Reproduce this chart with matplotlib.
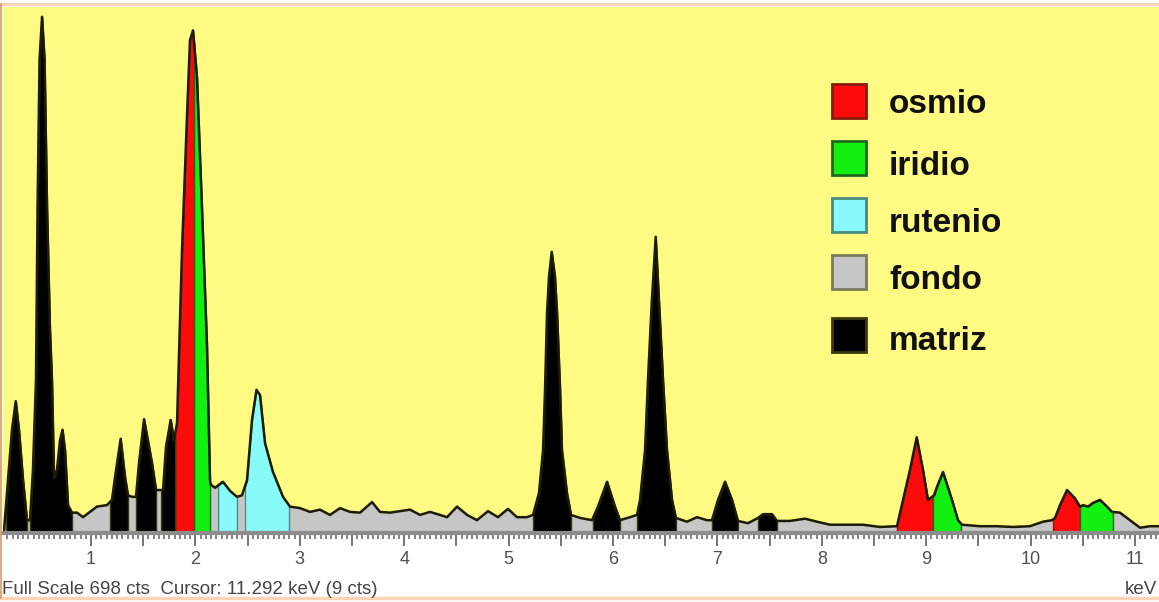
import numpy as np
import matplotlib.pyplot as plt
from matplotlib.patches import Rectangle
from matplotlib.lines import Line2D

plt.rcParams['font.family'] = ['Liberation Sans', 'DejaVu Sans']

# ---------------- espectro EDS (keV, cuentas) ----------------
energy = [0.167, 0.205, 0.243, 0.279, 0.310, 0.349, 0.387, 0.416, 0.444, 0.473,
          0.488, 0.507, 0.531, 0.555, 0.579, 0.607, 0.626, 0.646, 0.674, 0.703,
          0.727, 0.751, 0.780, 0.818, 0.866, 0.923, 0.990, 1.057, 1.153, 1.201,
          1.230, 1.284, 1.326, 1.354, 1.393, 1.431, 1.460, 1.508, 1.584, 1.623,
          1.661, 1.690, 1.718, 1.763, 1.795, 1.824, 1.872, 1.920, 1.948, 1.977,
          2.015, 2.063, 2.111, 2.140, 2.149, 2.188, 2.264, 2.331, 2.398, 2.446,
          2.494, 2.542, 2.585, 2.619, 2.667, 2.743, 2.839, 2.906, 3.002, 3.098,
          3.193, 3.289, 3.385, 3.481, 3.577, 3.692, 3.768, 3.864, 3.960, 4.056,
          4.151, 4.247, 4.343, 4.410, 4.506, 4.602, 4.697, 4.803, 4.898, 4.994,
          5.080, 5.176, 5.234, 5.291, 5.330, 5.349, 5.368, 5.387, 5.413, 5.444,
          5.464, 5.492, 5.511, 5.559, 5.598, 5.684, 5.799, 5.856, 5.943, 6.019,
          6.067, 6.163, 6.230, 6.259, 6.307, 6.335, 6.371, 6.409, 6.441, 6.479,
          6.517, 6.565, 6.603, 6.709, 6.805, 6.900, 6.948, 7.006, 7.073, 7.140,
          7.197, 7.293, 7.389, 7.437, 7.523, 7.571, 7.695, 7.839, 7.954, 8.079,
          8.241, 8.395, 8.557, 8.720, 8.778, 8.845, 8.909, 8.969, 9.017, 9.075,
          9.103, 9.161, 9.247, 9.305, 9.343, 9.515, 9.678, 9.831, 9.994, 10.119,
          10.205, 10.234, 10.282, 10.349, 10.425, 10.473, 10.502, 10.550, 10.598, 10.665,
          10.732, 10.780, 10.856, 10.933, 11.048, 11.144, 11.230]
counts = [4, 70, 137, 175, 137, 70, 17, 17, 84, 203,
          431, 628, 685, 628, 431, 269, 203, 73, 84, 123,
          137, 110, 37, 27, 27, 21, 28, 35, 37, 44,
          74, 125, 74, 50, 48, 48, 93, 151, 93, 57,
          57, 57, 114, 150, 123, 146, 376, 555, 654, 667,
          605, 431, 248, 69, 64, 60, 68, 56, 48, 50,
          70, 150, 190, 183, 119, 81, 48, 35, 33, 28,
          31, 24, 33, 28, 27, 41, 28, 27, 29, 31,
          24, 28, 24, 21, 35, 24, 17, 29, 21, 32,
          21, 21, 24, 53, 110, 190, 292, 340, 373, 340,
          292, 194, 110, 53, 24, 20, 17, 35, 68, 35,
          17, 21, 24, 44, 110, 203, 305, 393, 305, 203,
          110, 44, 20, 15, 21, 17, 17, 44, 68, 44,
          16, 13, 20, 25, 25, 16, 16, 19, 15, 11,
          11, 11, 8, 9, 44, 84, 127, 84, 44, 50,
          61, 81, 44, 17, 11, 9, 9, 8, 9, 15,
          17, 20, 37, 57, 46, 35, 37, 35, 40, 44,
          35, 28, 27, 19, 7, 9, 9]

# regiones de interes (keV)
matriz_rois = [(0.186, 0.387), (0.416, 0.818), (1.182, 1.354), (1.431, 1.623),
               (1.671, 1.805), (5.234, 5.598), (5.808, 6.067), (6.230, 6.603),
               (6.948, 7.197), (7.389, 7.571)]
osmio_rois = [(1.805, 1.987), (8.720, 9.065), (10.215, 10.473)]
iridio_rois = [(1.987, 2.140), (9.065, 9.333), (10.473, 10.789)]
rutenio_rois = [(2.217, 2.398), (2.475, 2.897)]

legend_labels = ["osmio", "iridio", "rutenio", "fondo", "matriz"]
legend_colors = ["#ff0a0a", "#12f012", "#88fafa", "#c6c6c6", "#000000"]
legend_edges = ["#8a1a10", "#1d6a1d", "#4a8a80", "#7a7a60", "#3a3a10"]

full_scale = 698
x_range = (0.157, 11.23)

W, H = 1159, 602
YELLOW = "#fffa82"

e = np.array(energy)
c = np.array(counts)

fig = plt.figure(figsize=(W / 100, H / 100), dpi=100, facecolor="white")
ax = fig.add_axes([3 / W, 69 / H, 1156 / W, 526 / H])
ax.set_facecolor(YELLOW)
ax.set_xlim(*x_range)
ax.set_ylim(0, full_scale)

# fondo (todo lo que hay bajo la curva)
ax.fill_between(e, c, 0, color=legend_colors[3], lw=0)


def roi_part(a, b):
    m = (e > a) & (e < b)
    xs = np.concatenate([[a], e[m], [b]])
    ys = np.concatenate([[np.interp(a, e, c)], c[m], [np.interp(b, e, c)]])
    return xs, ys


groups = [(osmio_rois, 0), (iridio_rois, 1), (rutenio_rois, 2), (matriz_rois, 4)]
for rois, k in groups:
    for a, b in rois:
        xs, ys = roi_part(a, b)
        ax.fill_between(xs, ys, 0, facecolor=legend_colors[k],
                        edgecolor=legend_edges[k], lw=1.0)

ax.plot(e, c, color="#1c1c00", lw=1.8)

# ejes
for s in ["top", "left", "right"]:
    ax.spines[s].set_visible(False)
ax.spines["bottom"].set_color("#8c8c8c")
ax.spines["bottom"].set_linewidth(3)
ax.set_yticks([])
major = np.arange(1, 11.01, 0.5)
ax.set_xticks(major)
ax.set_xticklabels([str(int(v)) if v == int(v) else "" for v in major])
ax.set_xticks(np.arange(0.2, 11.23, 0.05), minor=True)
ax.tick_params(axis="x", which="major", length=9, width=1.3, color="#6a6a6a",
               labelsize=13, labelcolor="#505050", pad=4)
ax.tick_params(axis="x", which="minor", length=4, width=1.3, color="#7a7a7a")

# leyenda
sq_centers = [101, 158, 215, 272, 335]
baselines = [113, 175, 232, 289, 350]
for lab, col, edg, cy, bl in zip(legend_labels, legend_colors, legend_edges,
                                 sq_centers, baselines):
    fig.add_artist(Rectangle((832 / W, 1 - (cy + 17) / H), 34 / W, 34 / H,
                             transform=fig.transFigure, facecolor=col,
                             edgecolor=edg, lw=2))
    fig.text(889 / W, 1 - bl / H, lab, fontsize=24, fontweight="bold",
             va="baseline", ha="left", color="#111111")

# textos inferiores
fig.text(2 / W, 1 - 590 / H, "Full Scale 698 cts  Cursor: 11.292 keV (9 cts)",
         fontsize=13.5, color="#444444", va="center", ha="left")
fig.text(1157 / W, 1 - 590 / H, "keV", fontsize=13.5, color="#444444",
         va="center", ha="right")

# marco
fig.add_artist(Line2D([0, 1], [1 - 4 / H] * 2, transform=fig.transFigure,
                      color="#ffd3b5", lw=2.5))
fig.add_artist(Line2D([0, 1], [1 - 598 / H] * 2, transform=fig.transFigure,
                      color="#ffd3b5", lw=2.5))
fig.add_artist(Line2D([1.5 / W] * 2, [1 - 598 / H, 1 - 4 / H],
                      transform=fig.transFigure, color="#d89a68", lw=1.2))

fig.savefig("out.png", dpi=100, facecolor="white")
